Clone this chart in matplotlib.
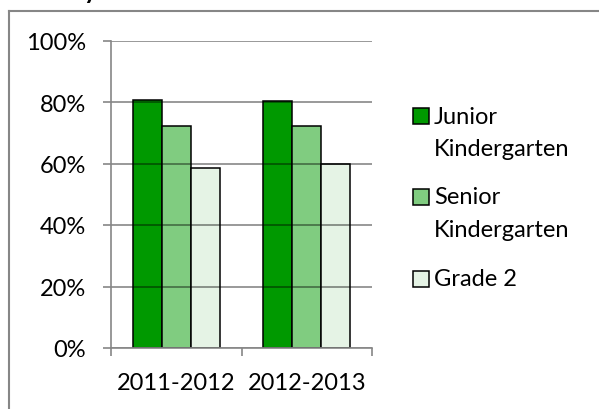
import matplotlib.pyplot as plt
import numpy as np
from matplotlib.patches import Rectangle
from matplotlib.lines import Line2D

plt.rcParams['font.family'] = ['Lato', 'DejaVu Sans']
plt.rcParams['font.size'] = 17

years = ["2011-2012", "2012-2013"]
series = ["Junior\nKindergarten", "Senior\nKindergarten", "Grade 2"]
junior_k = [80.6, 80.4]
senior_k = [72.1, 72.3]
grade_2 = [58.5, 59.8]
colors = ["#009900", "#80cc80", "#e5f3e5"]
yticks = [0, 20, 40, 60, 80, 100]

fig = plt.figure(figsize=(5.99, 4.10), dpi=100)
ax = fig.add_axes([111 / 599, 1 - 349 / 410, 261 / 599, 307.5 / 410])

x = np.arange(len(years))
w = 0.222
for i, vals in enumerate([junior_k, senior_k, grade_2]):
    ax.bar(x + (i - 1) * w, vals, w, color=colors[i], edgecolor="black",
           linewidth=1.1, zorder=2)

ax.set_xlim(-0.5, 1.5)
ax.set_ylim(0, 100)
ax.set_yticks(yticks)
ax.set_yticklabels([f"{t}%" for t in yticks])
ax.set_xticks(x)
ax.set_xticklabels(years)
ax.set_xticks([-0.5, 0.5, 1.5], minor=True)
ax.tick_params(axis="x", which="major", length=0, pad=17)
ax.tick_params(axis="x", which="minor", length=6, color="#868686", width=1.2)
ax.tick_params(axis="y", length=6, color="#868686", width=1.2, pad=12)

ax.yaxis.grid(True, color="black", alpha=0.47, linewidth=1.2, zorder=3)
ax.set_axisbelow(False)
for s in ["top", "right"]:
    ax.spines[s].set_visible(False)
for s in ["left", "bottom"]:
    ax.spines[s].set_color("#868686")
    ax.spines[s].set_linewidth(1.2)
    ax.spines[s].set_zorder(4)

# legend drawn by hand so squares line up with first text line
leg_y = [117, 197.5, 279.5]
for c, lab, yy in zip(colors, series, leg_y):
    fig.patches.append(Rectangle((413 / 599, 1 - (yy + 8) / 410), 16 / 599, 16 / 410,
                                 transform=fig.transFigure, facecolor=c,
                                 edgecolor="black", linewidth=1.1))
    fig.text(434 / 599, 1 - (yy - 10) / 410, lab, va="top", ha="left",
             linespacing=1.65)

# outer chart border (top and left edges visible)
fig.add_artist(Line2D([9 / 599, 9 / 599], [0, 1 - 12 / 410], transform=fig.transFigure,
                      color="#868686", linewidth=1.5))
fig.add_artist(Line2D([9 / 599, 1], [1 - 12 / 410, 1 - 12 / 410], transform=fig.transFigure,
                      color="#868686", linewidth=1.5))
fig.text(84 / 599, 1 + 1 / 410, "y", fontweight="bold", fontsize=18, va="baseline")

plt.savefig("out.png", dpi=100)
